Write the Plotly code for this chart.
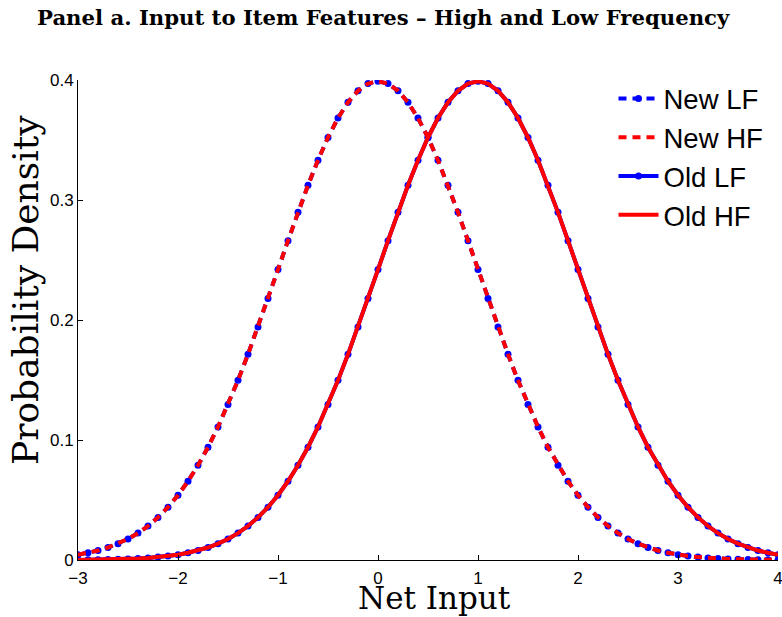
import plotly.graph_objects as go

# Net input grid (x values, step 0.1 from -3 to 4)
net_input = [round(-3 + 0.1 * i, 1) for i in range(71)]

# Probability density
new_lf = [0.0044, 0.0060, 0.0079, 0.0104, 0.0136, 0.0175, 0.0224, 0.0283, 0.0355, 0.0440,
          0.0540, 0.0656, 0.0790, 0.0940, 0.1109, 0.1295, 0.1497, 0.1714, 0.1942, 0.2179,
          0.2420, 0.2661, 0.2897, 0.3123, 0.3332, 0.3521, 0.3683, 0.3814, 0.3910, 0.3970,
          0.3989,
          0.3970, 0.3910, 0.3814, 0.3683, 0.3521, 0.3332, 0.3123, 0.2897, 0.2661, 0.2420,
          0.2179, 0.1942, 0.1714, 0.1497, 0.1295, 0.1109, 0.0940, 0.0790, 0.0656, 0.0540,
          0.0440, 0.0355, 0.0283, 0.0224, 0.0175, 0.0136, 0.0104, 0.0079, 0.0060, 0.0044,
          0.0033, 0.0024, 0.0017, 0.0012, 0.0009, 0.0006, 0.0004, 0.0003, 0.0002, 0.0001]
new_hf = list(new_lf)

old_lf = [0.0001, 0.0002, 0.0003, 0.0004, 0.0006, 0.0009, 0.0012, 0.0017, 0.0024, 0.0033,
          0.0044, 0.0060, 0.0079, 0.0104, 0.0136, 0.0175, 0.0224, 0.0283, 0.0355, 0.0440,
          0.0540, 0.0656, 0.0790, 0.0940, 0.1109, 0.1295, 0.1497, 0.1714, 0.1942, 0.2179,
          0.2420, 0.2661, 0.2897, 0.3123, 0.3332, 0.3521, 0.3683, 0.3814, 0.3910, 0.3970,
          0.3989,
          0.3970, 0.3910, 0.3814, 0.3683, 0.3521, 0.3332, 0.3123, 0.2897, 0.2661, 0.2420,
          0.2179, 0.1942, 0.1714, 0.1497, 0.1295, 0.1109, 0.0940, 0.0790, 0.0656, 0.0540,
          0.0440, 0.0355, 0.0283, 0.0224, 0.0175, 0.0136, 0.0104, 0.0079, 0.0060, 0.0044]
old_hf = list(old_lf)

x_ticks = [-3, -2, -1, 0, 1, 2, 3, 4]
x_tick_labels = ["\u22123", "\u22122", "\u22121", "0", "1", "2", "3", "4"]
y_ticks = [0, 0.1, 0.2, 0.3, 0.4]
y_tick_labels = ["0", "0.1", "0.2", "0.3", "0.4"]

BLUE = "#0000ff"
RED = "#ff0000"

fig = go.Figure()
# legend order: New LF, New HF, Old LF, Old HF ; draw order: blue first, red on top
fig.add_trace(go.Scatter(x=net_input, y=new_lf, name="New LF", mode="lines+markers",
                         line=dict(color=BLUE, width=4, dash="8px,6px"),
                         marker=dict(color=BLUE, size=7), legendrank=1, legendgroup="a"))
fig.add_trace(go.Scatter(x=net_input, y=old_lf, name="Old LF", mode="lines+markers",
                         line=dict(color=BLUE, width=4),
                         marker=dict(color=BLUE, size=7), legendrank=3, legendgroup="c"))
fig.add_trace(go.Scatter(x=net_input, y=new_hf, name="New HF", mode="lines",
                         line=dict(color=RED, width=4, dash="8px,6px"),
                         legendrank=2, legendgroup="b"))
fig.add_trace(go.Scatter(x=net_input, y=old_hf, name="Old HF", mode="lines",
                         line=dict(color=RED, width=4),
                         legendrank=4, legendgroup="d"))

fig.update_layout(
    width=782, height=617,
    margin=dict(l=78, r=4, t=80, b=57, autoexpand=False),
    paper_bgcolor="white", plot_bgcolor="white",
    title=dict(text="<b>Panel a. Input to Item Features \u2013 High and Low Frequency</b>",
               font=dict(family="DejaVu Serif", size=21.2, color="black"),
               x=0.49, xanchor="center", xref="container", y=0.971, yanchor="middle", yref="container"),
    showlegend=True,
    legend=dict(x=0.765, y=1.012, xanchor="left", yanchor="top",
                bgcolor="rgba(0,0,0,0)", font=dict(family="Liberation Sans", size=27.5, color="black"),
                tracegroupgap=0, itemwidth=40),
    font=dict(family="Liberation Sans", size=17, color="black"),
    annotations=[
        dict(text="Probability Density", textangle=-90, showarrow=False,
             xref="paper", yref="paper", x=-0.0757, y=0.5625, xanchor="center", yanchor="middle",
             font=dict(family="DejaVu Serif", size=36, color="black")),
        dict(text="Net Input", showarrow=False,
             xref="paper", yref="paper", x=0.5086, y=-0.0792, xanchor="center", yanchor="middle",
             font=dict(family="DejaVu Serif", size=31, color="black")),
    ],
)
fig.update_xaxes(range=[-3, 4], tickvals=x_ticks, ticktext=x_tick_labels, automargin=False,
                 ticklabeloverflow="allow", ticklabelstandoff=3,
                 showline=True, linecolor="black", linewidth=1, mirror=False,
                 ticks="inside", ticklen=5, tickcolor="black", showgrid=False, zeroline=False,
                 tickfont=dict(family="Liberation Sans", size=17))
fig.update_yaxes(range=[0, 0.4], tickvals=y_ticks, ticktext=y_tick_labels, automargin=False,
                 ticklabeloverflow="allow",
                 showline=True, linecolor="black", linewidth=1, mirror=False,
                 ticks="inside", ticklen=5, tickcolor="black", showgrid=False, zeroline=False,
                 tickfont=dict(family="Liberation Sans", size=17))

fig.write_html("out.html", config={"displayModeBar": False},
               post_script="document.body.style.margin='0';document.body.style.padding='0';")
